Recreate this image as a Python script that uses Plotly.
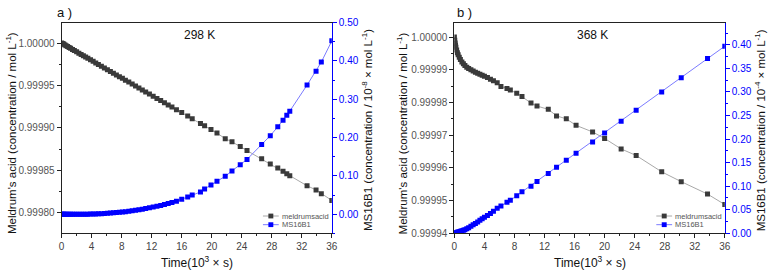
import plotly.graph_objects as go

W, H = 773, 274

# ---------- Panel a (298 K) ----------
t_a = [0, 0.1, 0.2, 0.3, 0.45, 0.6, 0.8, 1.0, 1.2, 1.45, 1.7, 2.0, 2.3, 2.6, 2.9, 3.2, 3.5,
       3.85, 4.2, 4.55, 4.9, 5.3, 5.7, 6.1, 6.5, 6.9, 7.3, 7.7, 8.1, 8.5, 8.95, 9.4, 9.85,
       10.3, 10.75, 11.2, 11.7, 12.2, 12.7, 13.2, 13.7, 14.2, 14.7, 15.3, 16.0, 16.8, 17.4,
       18.5, 19.05, 19.9, 20.7, 21.8, 22.7, 23.8, 24.7, 26.65, 27.8, 28.8, 29.5, 30.0, 30.4,
       32.7, 33.9, 34.6, 36.0]
meld_a = [1.0000000, 0.9999995, 0.9999990, 0.9999985, 0.9999977, 0.9999969, 0.9999959,
          0.9999948, 0.9999938, 0.9999925, 0.9999912, 0.9999897, 0.9999881, 0.9999866,
          0.9999850, 0.9999835, 0.9999820, 0.9999802, 0.9999784, 0.9999766, 0.9999748,
          0.9999727, 0.9999707, 0.9999686, 0.9999666, 0.9999645, 0.9999625, 0.9999604,
          0.9999584, 0.9999563, 0.9999540, 0.9999517, 0.9999494, 0.9999471, 0.9999448,
          0.9999425, 0.9999399, 0.9999374, 0.9999348, 0.9999323, 0.9999297, 0.9999272,
          0.9999247, 0.9999216, 0.9999181, 0.9999140, 0.9999108, 0.9999053, 0.9999025,
          0.9998982, 0.9998940, 0.9998874, 0.9998837, 0.9998781, 0.9998735, 0.9998637,
          0.9998577, 0.9998528, 0.9998490, 0.9998460, 0.9998438, 0.9998320, 0.9998271,
          0.9998226, 0.9998147]
ms_a = [0.0, 0.0, 0.0, 0.0, 0.0, 0.0, 0.0, 0.0, 0.0, 0.0, 0.0, 0.0, 0.0, 0.0, 0.0, 0.0, 0.0,
        0.0002, 0.0004, 0.0007, 0.001, 0.0014, 0.0019, 0.0024, 0.003, 0.0036, 0.0043,
        0.005, 0.0058, 0.0067, 0.0078, 0.009, 0.0103, 0.0117, 0.0132, 0.0148, 0.0166,
        0.0186, 0.0207, 0.023, 0.0254, 0.028, 0.0306, 0.034, 0.039, 0.045, 0.05, 0.058,
        0.066, 0.076, 0.086, 0.099, 0.113, 0.129, 0.143, 0.182, 0.205, 0.228, 0.245,
        0.258, 0.269, 0.337, 0.373, 0.397, 0.4525]

# ---------- Panel b (368 K) ----------
t_b = [0, 0.05, 0.1, 0.15, 0.2, 0.3, 0.4, 0.5, 0.65, 0.8, 1.0, 1.2, 1.4, 1.65, 1.9, 2.2, 2.5,
       2.8, 3.1, 3.4, 3.7, 4.0, 4.4, 4.8, 5.2, 5.7, 6.2, 7.0, 7.45, 8.3, 9.0, 10.2, 11.0,
       12.5, 13.6, 14.9, 16.2, 18.4, 20.0, 22.2, 24.2, 27.6, 30.2, 33.7, 36.0]
meld_b = [1.0000000, 0.9999990, 0.9999982, 0.9999975, 0.9999969, 0.9999960, 0.9999952,
          0.9999946, 0.9999938, 0.9999931, 0.9999924, 0.9999918, 0.9999913, 0.9999908,
          0.9999904, 0.9999900, 0.9999896, 0.9999892, 0.9999889, 0.9999886, 0.9999883,
          0.9999880, 0.9999876, 0.9999871, 0.9999866, 0.9999860, 0.9999849, 0.9999843,
          0.9999838, 0.9999828, 0.9999818, 0.9999798, 0.9999789, 0.9999779, 0.9999759,
          0.9999750, 0.9999730, 0.9999710, 0.9999690, 0.9999658, 0.9999638, 0.9999588,
          0.9999558, 0.9999520, 0.9999488]
ms_b = [0.0, 0.0003, 0.0006, 0.001, 0.0013, 0.002, 0.0025, 0.003, 0.0035, 0.0045, 0.0055,
        0.0065, 0.0075, 0.0095, 0.012, 0.015, 0.018, 0.021, 0.024, 0.028, 0.031, 0.034,
        0.038, 0.042, 0.047, 0.053, 0.058, 0.066, 0.07, 0.08, 0.088, 0.1, 0.11, 0.127,
        0.14, 0.155, 0.17, 0.194, 0.213, 0.238, 0.261, 0.3, 0.33, 0.371, 0.397]

names = ["meldrumsacid", "MS16B1"]
x_ticks = [0, 4, 8, 12, 16, 20, 24, 28, 32, 36]

FONT = "Arial, 'Liberation Sans', sans-serif"
BLACK_M = "#3a3a3a"
BLACK_L = "#a8a8a8"
BLUE_M = "#0000ff"
BLUE_L = "#7b7bff"

fig = go.Figure()

def add_pair(t, m, s, xa, ya, ya2):
    fig.add_trace(go.Scatter(x=t, y=m, xaxis=xa, yaxis=ya, name=names[0],
                             mode="lines+markers", showlegend=False,
                             line=dict(color=BLACK_L, width=1),
                             marker=dict(symbol="square", size=5, color=BLACK_M)))
    fig.add_trace(go.Scatter(x=t, y=s, xaxis=xa, yaxis=ya2, name=names[1],
                             mode="lines+markers", showlegend=False,
                             line=dict(color=BLUE_L, width=1),
                             marker=dict(symbol="square", size=5, color=BLUE_M)))

add_pair(t_a, meld_a, ms_a, "x", "y", "y2")
add_pair(t_b, meld_b, ms_b, "x2", "y3", "y4")

ya_dom = [37 / H, 255.7 / H]
xa_dom = [59.3 / W, 332.7 / W]
xb_dom = [456.7 / W, 730.3 / W]

xcommon = dict(range=[0, 36], tickvals=x_ticks, ticks="outside", ticklen=4,
               showline=True, linecolor="#222", linewidth=1, mirror=True,
               tickcolor="#222", showgrid=False, zeroline=False,
               tickfont=dict(family=FONT, size=10, color="#444"),
               minor=dict(dtick=2, ticks="outside", ticklen=2, tickcolor="#222"))
xtop = dict(range=[0, 36], tickvals=x_ticks, ticks="inside", ticklen=4,
            showline=False, tickcolor="#222", showgrid=False, zeroline=False,
            showticklabels=False, side="top",
            minor=dict(dtick=2, ticks="inside", ticklen=2, tickcolor="#222"))

fig.update_layout(
    width=W, height=H, margin=dict(l=0, r=0, t=0, b=0),
    paper_bgcolor="white", plot_bgcolor="white",
    font=dict(family=FONT, color="#222"),
    showlegend=False,
    xaxis=dict(domain=xa_dom, anchor="y", **xcommon),
    xaxis2=dict(domain=xb_dom, anchor="y3", **xcommon),
    xaxis3=dict(overlaying="x", anchor="y", **xtop),
    xaxis4=dict(overlaying="x2", anchor="y3", **xtop),
    yaxis=dict(domain=ya_dom, anchor="x", range=[0.999776, 1.000024],
               tickvals=[0.9998, 0.99985, 0.9999, 0.99995, 1.0],
               ticktext=["0.99980", "0.99985", "0.99990", "0.99995", "1.00000"],
               ticks="outside", ticklen=4, tickcolor="#222", showline=True,
               linecolor="#222", linewidth=1, showgrid=False, zeroline=False,
               tickfont=dict(family=FONT, size=10, color="#555"),
               minor=dict(dtick=0.000025, tick0=0.9998, ticks="outside", ticklen=2,
                          tickcolor="#222")),
    yaxis2=dict(overlaying="y", anchor="x", side="right", range=[-0.05, 0.5],
                tickvals=[0, 0.1, 0.2, 0.3, 0.4, 0.5],
                ticktext=["0.00", "0.10", "0.20", "0.30", "0.40", "0.50"],
                ticks="outside", ticklen=4, tickcolor=BLUE_M, showline=True,
                linecolor=BLUE_M, linewidth=1, showgrid=False, zeroline=False,
                tickfont=dict(family=FONT, size=10, color=BLUE_M),
                minor=dict(dtick=0.05, tick0=0, ticks="outside", ticklen=2,
                           tickcolor=BLUE_M)),
    yaxis3=dict(domain=ya_dom, anchor="x2", range=[0.99994, 1.0000044],
                tickvals=[0.99994, 0.99995, 0.99996, 0.99997, 0.99998, 0.99999, 1.0],
                ticktext=["0.99994", "0.99995", "0.99996", "0.99997", "0.99998",
                          "0.99999", "1.00000"],
                ticks="outside", ticklen=4, tickcolor="#222", showline=True,
                linecolor="#222", linewidth=1, showgrid=False, zeroline=False,
                tickfont=dict(family=FONT, size=10, color="#555"),
                minor=dict(dtick=0.000005, tick0=0.99994, ticks="outside", ticklen=2,
                           tickcolor="#222")),
    yaxis4=dict(overlaying="y3", anchor="x2", side="right", range=[0, 0.447],
                tickvals=[0, 0.05, 0.1, 0.15, 0.2, 0.25, 0.3, 0.35, 0.4, 0.45],
                ticktext=["0.00", "0.05", "0.10", "0.15", "0.20", "0.25", "0.30",
                          "0.35", "0.40", "0.45"],
                ticks="outside", ticklen=4, tickcolor=BLUE_M, showline=True,
                linecolor=BLUE_M, linewidth=1, showgrid=False, zeroline=False,
                tickfont=dict(family=FONT, size=10, color=BLUE_M),
                minor=dict(dtick=0.025, tick0=0, ticks="outside", ticklen=2,
                           tickcolor=BLUE_M)),
)

def ann(text, x, y, size, angle=0, color="#111", xanchor="center"):
    fig.add_annotation(text=text, x=x / W, y=1 - y / H, xref="paper", yref="paper",
                       showarrow=False, textangle=angle, xanchor=xanchor,
                       yanchor="middle", borderpad=0,
                       font=dict(family=FONT, size=size, color=color))

ann("a )", 62, 8, 13)
ann("b )", 467, 8, 13)
ann("298 K", 199, 31, 12)
ann("368 K", 596, 31, 12)
ann("Time(10<sup>3</sup> × s)", 196, 267, 12)
ann("Time(10<sup>3</sup> × s)", 594, 267, 12)
ann("Meldrum's acid (concentration / mol L<sup>-1</sup>)", 8, 133, 11.5, -90)
ann("Meldrum's acid (concentration / mol L<sup>-1</sup>)", 404, 133, 11.5, -90)
ann("MS16B1 (concentration / 10<sup>-8</sup> × mol L<sup>-1</sup>)", 369, 130, 11.5, -90)
ann("MS16B1 (concentration / 10<sup>-4</sup> × mol L<sup>-1</sup>)", 766, 130, 11.5, -90)

# compact inset legends
def legend(x0, y0):
    rows = [(names[0], BLACK_L, BLACK_M, y0), (names[1], BLUE_L, BLUE_M, y0 + 9)]
    for name, lc, mc, yy in rows:
        fig.add_shape(type="line", xref="paper", yref="paper",
                      x0=x0 / W, x1=(x0 + 16) / W, y0=1 - yy / H, y1=1 - yy / H,
                      line=dict(color=lc, width=1))
        fig.add_shape(type="rect", xref="paper", yref="paper",
                      x0=(x0 + 5.5) / W, x1=(x0 + 10.5) / W,
                      y0=1 - (yy - 2.5) / H, y1=1 - (yy + 2.5) / H,
                      line=dict(width=0), fillcolor=mc)
        ann(name, x0 + 18, yy, 7.5, color="#555", xanchor="left")

legend(263, 219)
legend(661, 219)

fig.write_html("out.html")
